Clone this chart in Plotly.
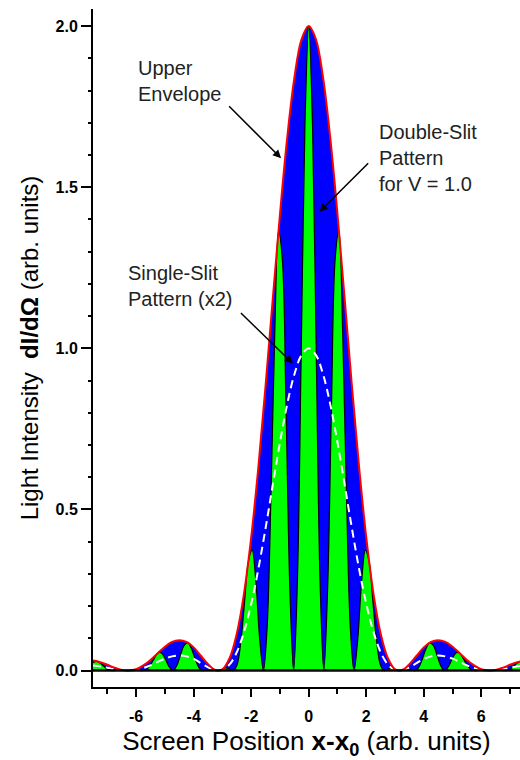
import plotly.graph_objects as go

FONT = "Liberation Sans, Arial, Helvetica, sans-serif"

# Screen positions sampled on the fringe grid (8 samples per fringe period)
x_fringe = [
    -7.5, -7.481, -7.35, -7.219, -7.088, -6.956, -6.825, -6.694, -6.563, -6.431,
    -6.3, -6.169, -6.038, -5.906, -5.775, -5.644, -5.513, -5.381, -5.25, -5.119,
    -4.988, -4.856, -4.725, -4.594, -4.463, -4.331, -4.2, -4.069, -3.938, -3.806,
    -3.675, -3.544, -3.413, -3.281, -3.15, -3.019, -2.888, -2.756, -2.625, -2.494,
    -2.363, -2.231, -2.1, -1.969, -1.838, -1.706, -1.575, -1.444, -1.313, -1.181,
    -1.05, -0.919, -0.788, -0.656, -0.525, -0.394, -0.263, -0.131,
    0.0,
    0.131, 0.263, 0.394, 0.525, 0.656, 0.788, 0.919, 1.05, 1.181, 1.313,
    1.444, 1.575, 1.706, 1.838, 1.969, 2.1, 2.231, 2.363, 2.494, 2.625,
    2.756, 2.888, 3.019, 3.15, 3.281, 3.413, 3.544, 3.675, 3.806, 3.938,
    4.069, 4.2, 4.331, 4.463, 4.594, 4.725, 4.856, 4.988, 5.119, 5.25,
    5.381, 5.513, 5.644, 5.775, 5.906, 6.038, 6.169, 6.3, 6.431, 6.563,
    6.694, 6.825, 6.956, 7.088, 7.219, 7.35, 7.481, 7.5,
]

# Double-slit intensity for V = 1.0
double_slit = [
    0.025, 0.026, 0.028, 0.021, 0.010, 0.002, 0.0, 0.001, 0.002, 0.001,
    0.0, 0.001, 0.002, 0.001, 0.0, 0.003, 0.016, 0.036, 0.054, 0.055,
    0.037, 0.012, 0.0, 0.014, 0.047, 0.078, 0.086, 0.066, 0.033, 0.008,
    0.0, 0.004, 0.006, 0.003, 0.0, 0.003, 0.008, 0.005, 0.0, 0.017,
    0.088, 0.214, 0.338, 0.374, 0.276, 0.099, 0.0, 0.138, 0.543, 1.047,
    1.365, 1.278, 0.810, 0.253, 0.0, 0.278, 0.977, 1.697,
    2.000,
    1.697, 0.977, 0.278, 0.0, 0.253, 0.810, 1.278, 1.365, 1.047, 0.543,
    0.138, 0.0, 0.099, 0.276, 0.374, 0.338, 0.214, 0.088, 0.017, 0.0,
    0.005, 0.008, 0.003, 0.0, 0.003, 0.006, 0.004, 0.0, 0.008, 0.033,
    0.066, 0.086, 0.078, 0.047, 0.014, 0.0, 0.012, 0.037, 0.055, 0.054,
    0.036, 0.016, 0.003, 0.0, 0.001, 0.002, 0.001, 0.0, 0.001, 0.002,
    0.001, 0.0, 0.002, 0.010, 0.021, 0.028, 0.026, 0.025,
]

# Screen positions for the envelope and single-slit curves
x_env = [
    -7.5, -7.25, -7.0, -6.75, -6.5, -6.25, -6.0, -5.75, -5.5, -5.25,
    -5.0, -4.75, -4.5, -4.25, -4.0, -3.75, -3.5, -3.25, -3.0, -2.75,
    -2.5, -2.25, -2.0, -1.75, -1.5, -1.25, -1.0, -0.75, -0.5, -0.25,
    0.0,
    0.25, 0.5, 0.75, 1.0, 1.25, 1.5, 1.75, 2.0, 2.25, 2.5,
    2.75, 3.0, 3.25, 3.5, 3.75, 4.0, 4.25, 4.5, 4.75, 5.0,
    5.25, 5.5, 5.75, 6.0, 6.25, 6.5, 6.75, 7.0, 7.25, 7.5,
]

upper_envelope = [
    0.031, 0.026, 0.018, 0.009, 0.002, 0.0, 0.004, 0.016, 0.033, 0.054,
    0.074, 0.089, 0.094, 0.089, 0.072, 0.046, 0.020, 0.002, 0.004, 0.039,
    0.115, 0.239, 0.413, 0.632, 0.884, 1.153, 1.416, 1.652, 1.839, 1.959,
    2.000,
    1.959, 1.839, 1.652, 1.416, 1.153, 0.884, 0.632, 0.413, 0.239, 0.115,
    0.039, 0.004, 0.002, 0.020, 0.046, 0.072, 0.089, 0.094, 0.089, 0.074,
    0.054, 0.033, 0.016, 0.004, 0.0, 0.002, 0.009, 0.018, 0.026, 0.031,
]

# Single-slit pattern, shown scaled by 2
single_slit = [
    0.016, 0.013, 0.009, 0.004, 0.001, 0.0, 0.002, 0.008, 0.016, 0.027,
    0.037, 0.044, 0.047, 0.044, 0.036, 0.023, 0.010, 0.001, 0.002, 0.019,
    0.057, 0.120, 0.207, 0.316, 0.442, 0.576, 0.708, 0.826, 0.919, 0.979,
    1.000,
    0.979, 0.919, 0.826, 0.708, 0.576, 0.442, 0.316, 0.207, 0.120, 0.057,
    0.019, 0.002, 0.001, 0.010, 0.023, 0.036, 0.044, 0.047, 0.044, 0.037,
    0.027, 0.016, 0.008, 0.002, 0.0, 0.001, 0.004, 0.009, 0.013, 0.016,
]

x_tick_vals = [-6, -4, -2, 0, 2, 4, 6]
x_tick_text = ["-6", "-4", "-2", "0", "2", "4", "6"]
x_minor_vals = [-7, -5, -3, -1, 1, 3, 5, 7]
y_tick_vals = [0.0, 0.5, 1.0, 1.5, 2.0]
y_tick_text = ["0.0", "0.5", "1.0", "1.5", "2.0"]

X_RANGE = [-7.5, 7.345]
Y_RANGE = [-0.051, 2.053]

fig = go.Figure()

# blue area under the upper envelope
fig.add_trace(go.Scatter(
    x=x_env, y=upper_envelope, mode="lines",
    line=dict(color="rgba(0,0,0,0)", width=0, shape="spline"),
    fill="tozeroy", fillcolor="#0000FF",
    hoverinfo="skip", showlegend=False,
))
# green double-slit fringes with black outline
fig.add_trace(go.Scatter(
    x=x_fringe, y=double_slit, mode="lines",
    line=dict(color="black", width=1.2, shape="spline"),
    fill="tozeroy", fillcolor="#00FF00",
    hoverinfo="skip", showlegend=False,
))
# dashed single-slit curve
fig.add_trace(go.Scatter(
    x=x_env, y=single_slit, mode="lines",
    line=dict(color="white", width=2, dash="8px,5px", shape="spline"),
    hoverinfo="skip", showlegend=False,
))
# red envelope outline
fig.add_trace(go.Scatter(
    x=x_env, y=upper_envelope, mode="lines",
    line=dict(color="#FF0000", width=2, shape="spline"),
    hoverinfo="skip", showlegend=False,
))

# baseline at zero intensity
fig.add_hline(y=0, line=dict(color="black", width=2.5), layer="above")

tick_font = dict(family=FONT, size=16, color="black", weight="bold")
base_x = dict(range=X_RANGE, showgrid=False, zeroline=False, fixedrange=True,
              automargin=False, tickcolor="black")
base_y = dict(range=Y_RANGE, showgrid=False, zeroline=False, fixedrange=True,
              automargin=False, tickcolor="black")

fig.update_layout(
    width=520, height=760,
    margin=dict(l=93, r=0, t=9, b=73),
    paper_bgcolor="white", plot_bgcolor="white",
    showlegend=False,
    xaxis=dict(
        **base_x,
        showline=True, linecolor="black", linewidth=2,
        ticks="outside", ticklen=8, tickwidth=2,
        tickmode="array", tickvals=x_tick_vals, ticktext=x_tick_text,
        minor=dict(tickmode="array", tickvals=x_minor_vals, ticks="outside",
                   ticklen=5, tickwidth=2, tickcolor="black"),
        tickfont=tick_font, ticklabelstandoff=6,
        title=dict(text="Screen Position <b>x-x<sub>0</sub></b> (arb. units)",
                   font=dict(family=FONT, size=26, color="black"), standoff=8),
    ),
    xaxis3=dict(
        **base_x, overlaying="x", side="bottom", anchor="y",
        showline=False, showticklabels=False,
        ticks="inside", ticklen=8, tickwidth=2,
        tickmode="array", tickvals=x_tick_vals,
        minor=dict(tickmode="array", tickvals=x_minor_vals, ticks="inside",
                   ticklen=5, tickwidth=2, tickcolor="black"),
    ),
    xaxis2=dict(
        **base_x, overlaying="x", side="top", anchor="y",
        showline=True, linecolor="black", linewidth=2, showticklabels=False,
        ticks="inside", ticklen=7, tickwidth=2,
        tickmode="linear", tick0=0, dtick=1,
    ),
    yaxis=dict(
        **base_y,
        showline=True, linecolor="black", linewidth=2,
        ticks="outside", ticklen=10, tickwidth=2,
        tickmode="array", tickvals=y_tick_vals, ticktext=y_tick_text,
        minor=dict(tickmode="linear", tick0=0, dtick=0.1, ticks="outside",
                   ticklen=3, tickwidth=2, tickcolor="black"),
        tickfont=tick_font,
        title=dict(text="Light Intensity  <b>dI/dΩ</b> (arb. units)",
                   font=dict(family=FONT, size=24, color="black"), standoff=10),
    ),
    yaxis3=dict(
        **base_y, overlaying="y", side="left", anchor="x",
        showline=False, showticklabels=False,
        ticks="inside", ticklen=8, tickwidth=2,
        tickmode="array", tickvals=y_tick_vals,
        minor=dict(tickmode="linear", tick0=0, dtick=0.1, ticks="inside",
                   ticklen=7, tickwidth=2, tickcolor="black"),
    ),
    yaxis2=dict(
        **base_y, overlaying="y", side="right", anchor="x",
        showline=False, showticklabels=False,
        ticks="inside", ticklen=5, tickwidth=2,
        tickmode="array", tickvals=y_tick_vals,
        minor=dict(tickmode="linear", tick0=0, dtick=0.1, ticks="inside",
                   ticklen=2, tickwidth=1, tickcolor="black"),
    ),
)

label_font = dict(family=FONT, size=20, color="#222222")
labels = [
    ("Upper<br>Envelope", -6.0, 1.911),
    ("Double-Slit<br>Pattern<br>for V = 1.0", 2.36, 1.712),
    ("Single-Slit<br>Pattern (x2)", -6.35, 1.274),
]
for text, lx, ly in labels:
    fig.add_annotation(x=lx, y=ly, xref="x", yref="y", text=text,
                       showarrow=False, xanchor="left", yanchor="top",
                       align="left", font=label_font)

# pointer arrows: (head x, head y, tail x, tail y)
arrows = [
    (-0.96, 1.59, -2.82, 1.756),
    (0.376, 1.424, 2.12, 1.579),
    (-0.554, 0.953, -2.41, 1.114),
]
for hx, hy, tx, ty in arrows:
    fig.add_annotation(x=hx, y=hy, ax=tx, ay=ty, xref="x", yref="y",
                       axref="x", ayref="y", text="", showarrow=True,
                       arrowhead=2, arrowsize=1.1, arrowwidth=1.5,
                       arrowcolor="black", standoff=0, startstandoff=0)

fig.write_html("out.html")
